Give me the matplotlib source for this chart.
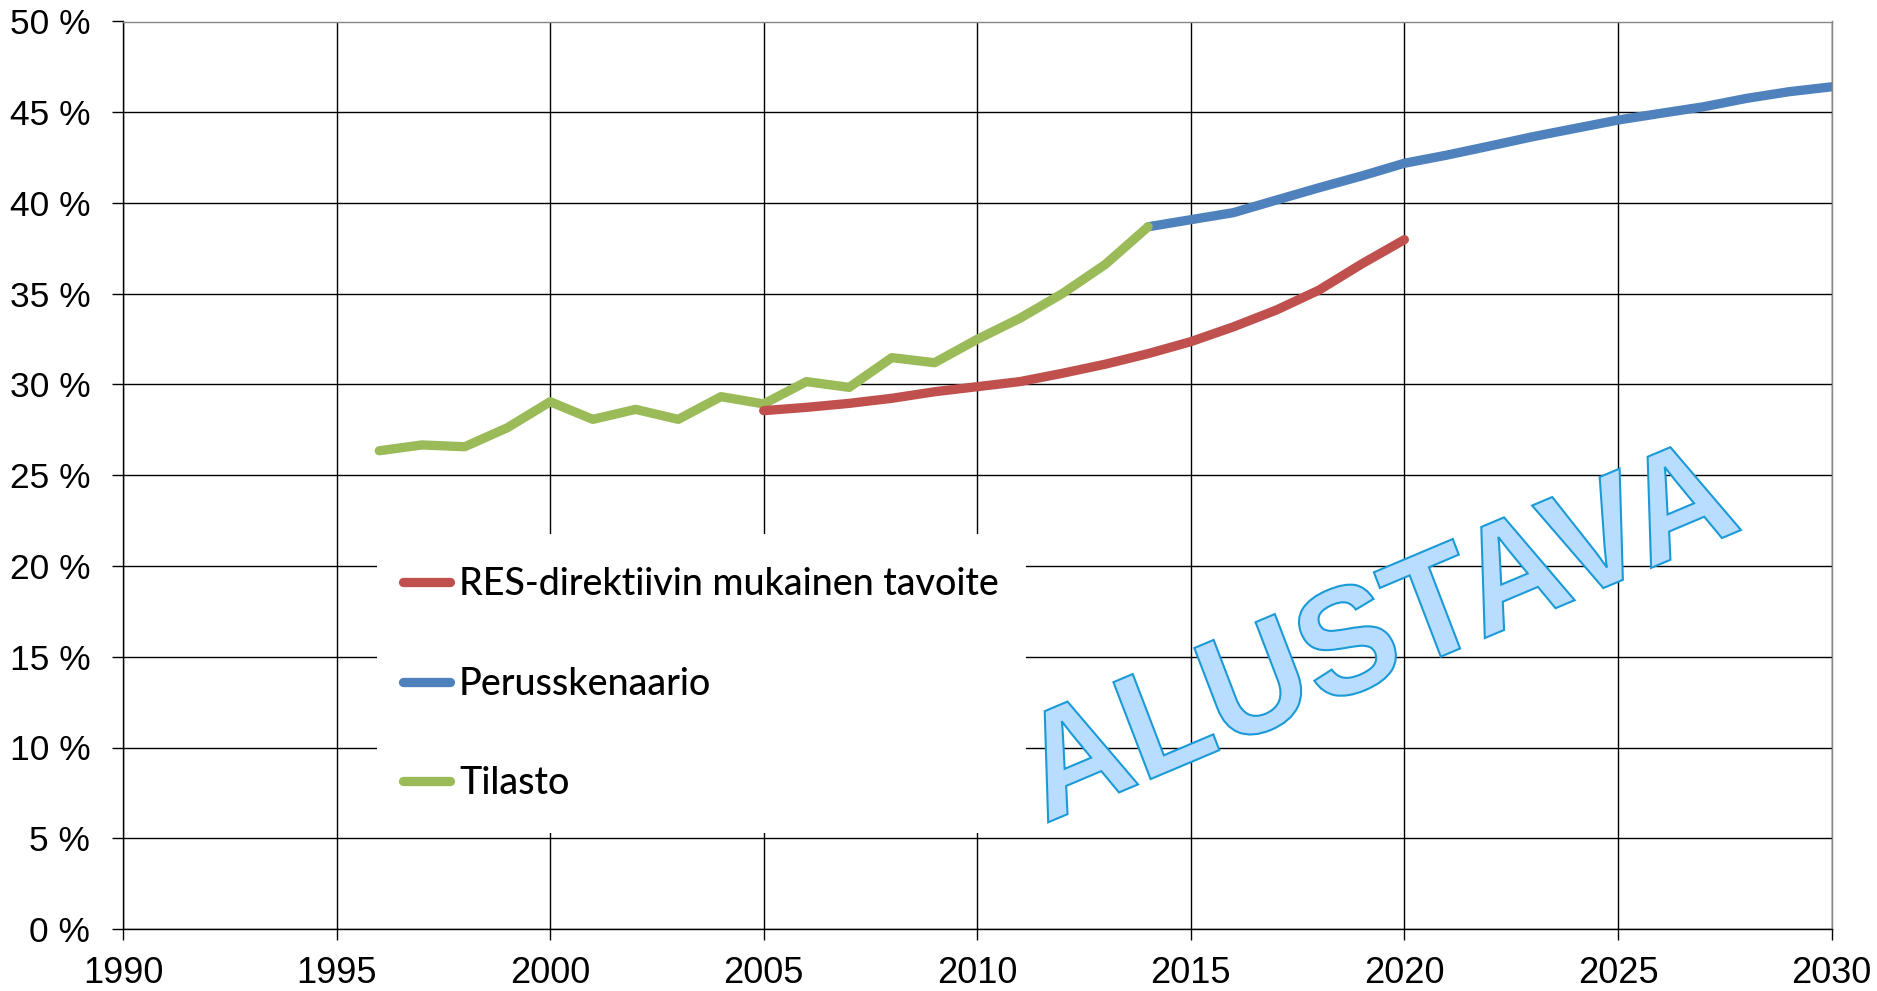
import matplotlib
matplotlib.use("Agg")
import matplotlib.pyplot as plt
import numpy as np
from matplotlib.textpath import TextPath
from matplotlib.font_manager import FontProperties
from matplotlib.patches import PathPatch, Rectangle
from matplotlib.transforms import Affine2D

# ---------------- data ----------------
tilasto_years = list(range(1996, 2015))
tilasto_values = [26.35, 26.67, 26.57, 27.62, 29.05, 28.08, 28.63, 28.08, 29.33, 28.93,
                  30.16, 29.84, 31.48, 31.20, 32.49, 33.65, 35.02, 36.62, 38.69]

res_years = list(range(2005, 2021))
res_values = [28.56, 28.74, 28.96, 29.24, 29.60, 29.88, 30.16, 30.62, 31.12, 31.70,
              32.36, 33.18, 34.10, 35.20, 36.64, 37.98]

perus_years = [2014] + list(range(2016, 2031))
perus_values = [38.69, 39.47, 40.16, 40.84, 41.49, 42.19, 42.64, 43.14, 43.65, 44.11,
                44.57, 44.94, 45.30, 45.76, 46.13, 46.40]

legend_labels = ["RES-direktiivin mukainen tavoite", "Perusskenaario", "Tilasto"]
x_ticks = list(range(1990, 2031, 5))
y_ticks = list(range(0, 51, 5))
y_ticklabels = [f"{v} %" for v in y_ticks]
watermark = "ALUSTAVA"

# ---------------- styling ----------------
plt.rcParams['font.family'] = ['Liberation Sans', 'DejaVu Sans']
W_PX, H_PX = 1877, 991
fig = plt.figure(figsize=(W_PX / 100, H_PX / 100), dpi=100)
ax_l, ax_r, ax_t, ax_b = 123, 1831.5, 21.5, 929
ax = fig.add_axes([ax_l / W_PX, 1 - ax_b / H_PX, (ax_r - ax_l) / W_PX, (ax_b - ax_t) / H_PX])

RED, BLUE, GREEN = '#C0504D', '#4F81BD', '#9BBB59'
LW = 6.7
kw = dict(lw=LW, solid_capstyle='round', solid_joinstyle='round')
l_perus, = ax.plot(perus_years, perus_values, color=BLUE, zorder=3, **kw)
l_til, = ax.plot(tilasto_years, tilasto_values, color=GREEN, zorder=4, **kw)
l_res, = ax.plot(res_years, res_values, color=RED, zorder=5, **kw)

ax.set_xlim(1990, 2030)
ax.set_ylim(0, 50)
ax.set_xticks(x_ticks)
ax.set_xticklabels([str(x) for x in x_ticks])
ax.set_yticks(y_ticks)
ax.set_yticklabels(y_ticklabels)
ax.set_axisbelow(True)
ax.grid(True, color='black', lw=1.0)
ax.tick_params(axis='both', direction='out', length=8, width=1.0, color='black',
               labelcolor='black')
ax.tick_params(axis='x', pad=11.5, labelsize=26)
ax.tick_params(axis='y', pad=15.5, labelsize=25.5)
for s in ['left', 'bottom']:
    ax.spines[s].set_color('black')
    ax.spines[s].set_linewidth(1.0)
for s in ['top', 'right']:
    ax.spines[s].set_color('#868686')
    ax.spines[s].set_linewidth(1.0)

# white legend area covering the grid
def ax_x(px):
    return (px - ax_l) / (ax_r - ax_l)

def ax_y(py):
    return (ax_b - py) / (ax_b - ax_t)

bx0, bx1, by0, by1 = 376.5, 1025.7, 534, 833.3
ax.add_patch(Rectangle((ax_x(bx0), ax_y(by1)), ax_x(bx1) - ax_x(bx0), ax_y(by0) - ax_y(by1),
                       transform=ax.transAxes, facecolor='white', edgecolor='none', zorder=1))

# legend: fit font size to reference width
LEG_FAMILY, LEG_WEIGHT = 'Lato', 'medium'
renderer = fig.canvas.get_renderer()
tmp = fig.text(0, 0, legend_labels[0],
               fontproperties=FontProperties(family=LEG_FAMILY, weight=LEG_WEIGHT, size=28))
w = tmp.get_window_extent(renderer).width
tmp.remove()
leg_fs = 28 * 542 / w
fs_px = leg_fs * 100 / 72
cap_px = LW * 100 / 72
hx = ax_x(398 + cap_px / 2)
cy = ax_y(684.3)

def make_legend(ls):
    return ax.legend([l_res, l_perus, l_til], legend_labels, loc='center left',
                     bbox_to_anchor=(hx, cy), bbox_transform=ax.transAxes, frameon=False,
                     prop=FontProperties(family=LEG_FAMILY, weight=LEG_WEIGHT, size=leg_fs),
                     handlelength=(57 - cap_px) / fs_px, handletextpad=(4 + cap_px / 2) / fs_px,
                     labelspacing=ls, borderpad=0, borderaxespad=0)

ls = 1.0
leg = make_legend(ls)
fig.canvas.draw()
ys = [(t.get_window_extent(renderer).y0 + t.get_window_extent(renderer).y1) / 2 for t in leg.get_texts()]
pitch = (ys[0] - ys[2]) / 2
ls = ls + (99.7 - pitch) / fs_px
leg.remove()
leg = make_legend(ls)
leg.set_zorder(6)

# watermark
wm_fp = FontProperties(family='Liberation Sans', weight='bold')
tp = TextPath((0, 0), watermark, size=1, prop=wm_fp)
ext = tp.get_extents()
tpA = TextPath((0, 0), watermark[0], size=1, prop=wm_fp)
extA = tpA.get_extents()
ua = (extA.x0 + extA.x1) / 2
va = extA.y1
P0 = np.array([1048.2, H_PX - 822.3])
P1 = np.array([1741.0, H_PX - 530.0])
Pa = np.array([1056.0, H_PX - 706.4])
eu = (P1 - P0) / (ext.x1 - ext.x0)
ev = (Pa - P0 - (ua - ext.x0) * eu) / va
M = np.array([[eu[0], ev[0], P0[0] - ext.x0 * eu[0]],
              [eu[1], ev[1], P0[1] - ext.x0 * eu[1]],
              [0, 0, 1]])
S = np.diag([1 / W_PX, 1 / H_PX, 1])
wm = PathPatch(tp, transform=Affine2D(S @ M) + fig.transFigure,
               facecolor='#B8DDFE', edgecolor='#1A9AD6', lw=1.5, zorder=2)
fig.add_artist(wm)

fig.savefig('out.png', dpi=100, facecolor='white')
